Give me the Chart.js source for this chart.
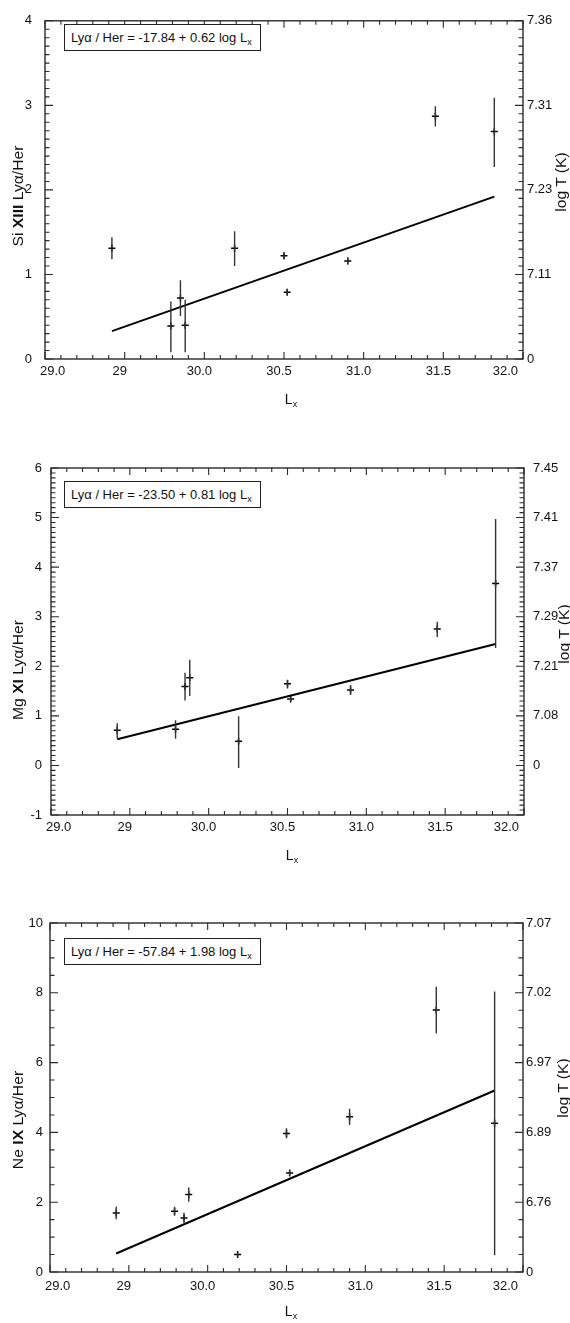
<!DOCTYPE html>
<html>
<head>
<meta charset="utf-8">
<script src="https://cdn.jsdelivr.net/npm/chart.js@4.4.1/dist/chart.umd.min.js"></script>
<style>
  body { margin: 0; background: #fff; }
  #page { position: relative; width: 570px; height: 1323px; overflow: hidden;
          font-family: 'Liberation Sans', Arial, sans-serif; color: #111; }
  canvas { position: absolute; left: 0; }
  .box { position: absolute; left: 64px; width: 197px; height: 27px; box-sizing: border-box;
         border: 1px solid #222; background: #fff; font-size: 13px; line-height: 25px;
         padding-left: 6px; white-space: nowrap; }
  .xt, .yt { position: absolute; white-space: nowrap; font-size: 14px; }
  .xt { transform: translate(-50%, -50%); }
  .yt { transform: translate(-50%, -50%) rotate(-90deg) scaleX(1.12); }
  sub { font-size: 9px; vertical-align: -3px; line-height: 0; }
</style>
</head>
<body>
<div id="page">
  <canvas id="si" width="570" height="420" style="top:0;width:570px;height:420px"></canvas>
  <canvas id="mg" width="570" height="440" style="top:440px;width:570px;height:440px"></canvas>
  <canvas id="ne" width="570" height="443" style="top:880px;width:570px;height:443px"></canvas>

  <div class="box" style="top:24px">Lyα / Her = -17.84 + 0.62 log L<sub>x</sub></div>
  <div class="xt" style="left:291px;top:399px">L<sub>x</sub></div>
  <div class="yt" style="left:18px;top:196px">Si <b>XIII</b> Lyα/Her</div>
  <div class="yt" style="left:561px;top:182px">log T (K)</div>

  <div class="box" style="top:481px">Lyα / Her = -23.50 + 0.81 log L<sub>x</sub></div>
  <div class="xt" style="left:292px;top:855px">L<sub>x</sub></div>
  <div class="yt" style="left:18px;top:670px">Mg <b>XI</b> Lyα/Her</div>
  <div class="yt" style="left:564px;top:634px">log T (K)</div>

  <div class="box" style="top:938px">Lyα / Her = -57.84 + 1.98 log L<sub>x</sub></div>
  <div class="xt" style="left:291px;top:1311px">L<sub>x</sub></div>
  <div class="yt" style="left:18px;top:1120px">Ne <b>IX</b> Lyα/Her</div>
  <div class="yt" style="left:563px;top:1088px">log T (K)</div>
</div>
<script>
// log Lx of the stars, the same in the three panels
const lx = [29.42, 29.79, 29.85, 29.88, 30.19, 30.50, 30.52, 30.90, 31.45, 31.82];
const xTickLabels = ['29.0', '29', '30.0', '30.5', '31.0', '31.5', '32.0'];
const fitX = [29.42, 31.82];

// Si XIII
const siRatio = [1.31, 0.39, 0.72, 0.40, 1.31, 1.22, 0.79, 1.16, 2.87, 2.69];
const siLow   = [1.18, 0.08, 0.51, 0.08, 1.10, 1.18, 0.76, 1.12, 2.75, 2.27];
const siHigh  = [1.44, 0.68, 0.93, 0.70, 1.51, 1.26, 0.82, 1.20, 2.99, 3.09];
const siFit   = [0.33, 1.92];
const siTempLabels = ['0', '7.11', '7.23', '7.31', '7.36'];

// Mg XI
const mgRatio = [0.71, 0.73, 1.59, 1.77, 0.49, 1.65, 1.34, 1.52, 2.75, 3.67];
const mgLow   = [0.55, 0.54, 1.31, 1.40, -0.05, 1.55, 1.30, 1.42, 2.59, 2.37];
const mgHigh  = [0.85, 0.91, 1.87, 2.13, 0.99, 1.73, 1.38, 1.62, 2.90, 4.97];
const mgFit   = [0.53, 2.45];
const mgTempLabels = ['', '0', '7.08', '7.21', '7.29', '7.37', '7.41', '7.45'];

// Ne IX
const neRatio = [1.69, 1.74, 1.55, 2.22, 0.50, 3.97, 2.84, 4.45, 7.51, 4.26];
const neLow   = [1.51, 1.61, 1.39, 2.01, 0.43, 3.83, 2.76, 4.21, 6.84, 0.48];
const neHigh  = [1.87, 1.87, 1.70, 2.42, 0.57, 4.12, 2.92, 4.68, 8.17, 8.04];
const neFit   = [0.53, 5.20];
const neTempLabels = ['0', '6.76', '6.89', '6.97', '7.02', '7.07'];

Chart.defaults.font.family = "'Liberation Sans', Arial, sans-serif";
Chart.defaults.font.size = 13;
Chart.defaults.color = '#111';

// frame with inward ticks on all four sides
const inTicks = {
  id: 'inTicks',
  afterDraw(chart, args, o) {
    const { ctx, chartArea: a, scales } = chart;
    ctx.save();
    ctx.strokeStyle = '#2a2a2a';
    ctx.lineWidth = 1.4;
    ctx.strokeRect(a.left, a.top, a.right - a.left, a.bottom - a.top);
    ctx.lineWidth = 1.1;
    function each(scale, minor, major, fn) {
      const n = Math.round((scale.max - scale.min) / minor);
      for (let k = 0; k <= n; k++) {
        const v = scale.min + k * minor;
        const isMajor = Math.abs(v / major - Math.round(v / major)) < 1e-6;
        fn(scale.getPixelForValue(v), isMajor);
      }
    }
    ctx.beginPath();
    each(scales.x, o.xMinor, o.xMajor, (p, m) => {
      const len = m ? 7 : 4;
      ctx.moveTo(p, a.bottom); ctx.lineTo(p, a.bottom - len);
      ctx.moveTo(p, a.top); ctx.lineTo(p, a.top + len);
    });
    each(scales.y, o.yMinor, o.yMajor, (p, m) => {
      const len = m ? 8 : 4.5;
      ctx.moveTo(a.left, p); ctx.lineTo(a.left + len, p);
    });
    each(scales.y2, o.yMinor, o.yMajor, (p, m) => {
      const len = m ? 8 : 4.5;
      ctx.moveTo(a.right, p); ctx.lineTo(a.right - len, p);
    });
    ctx.stroke();
    ctx.restore();
  }
};

function errorBars(low, high) {
  const pts = [];
  lx.forEach((x, i) => {
    pts.push({ x: x, y: low[i] }, { x: x, y: high[i] }, { x: x, y: null });
  });
  return pts;
}

function makePanel(id, ratio, low, high, fit, tempLabels, s) {
  return new Chart(document.getElementById(id), {
    type: 'scatter',
    data: {
      datasets: [
        { data: errorBars(low, high), showLine: true, spanGaps: false,
          borderColor: '#333', borderWidth: 1.4, pointRadius: 0 },
        { data: lx.map((x, i) => ({ x: x, y: ratio[i] })), pointStyle: 'cross',
          pointRadius: 3.5, borderColor: '#000', backgroundColor: '#000', borderWidth: 1.5 },
        { data: fitX.map((x, i) => ({ x: x, y: fit[i] })), showLine: true,
          borderColor: '#000', borderWidth: 2, pointRadius: 0 }
      ]
    },
    options: {
      responsive: false,
      animation: false,
      events: [],
      layout: { padding: { top: s.top, left: 0, right: 0, bottom: 0 } },
      plugins: {
        legend: { display: false },
        tooltip: { enabled: false },
        inTicks: { xMinor: 0.1, xMajor: 0.5, yMinor: s.yMinor, yMajor: s.yStep }
      },
      scales: {
        x: {
          type: 'linear', min: 29, max: 32,
          grid: { display: false, drawTicks: false }, border: { display: false },
          ticks: { stepSize: 0.5, padding: s.xPad, maxRotation: 0, align: 'inner', labelOffset: -5,
                   callback: (v, i) => xTickLabels[i] },
          afterFit: sc => { sc.height = s.h - s.bottom; }
        },
        y: {
          type: 'linear', position: 'left', min: s.yMin, max: s.yMax,
          grid: { display: false, drawTicks: false }, border: { display: false },
          ticks: { stepSize: s.yStep, padding: s.yPad },
          afterFit: sc => { sc.width = s.left; }
        },
        y2: {
          type: 'linear', position: 'right', min: s.yMin, max: s.yMax,
          grid: { display: false, drawTicks: false }, border: { display: false },
          ticks: { stepSize: s.yStep, padding: s.y2Pad,
                   callback: (v, i) => tempLabels[i] },
          afterFit: sc => { sc.width = 570 - s.right; }
        }
      }
    },
    plugins: [inTicks]
  });
}

makePanel('si', siRatio, siLow, siHigh, siFit, siTempLabels,
  { h: 420, top: 12, bottom: 359, left: 45, right: 523, yMin: 0, yMax: 4, yStep: 1, yMinor: 0.1,
    xPad: 5, yPad: 13, y2Pad: 4 });
makePanel('mg', mgRatio, mgLow, mgHigh, mgFit, mgTempLabels,
  { h: 440, top: 28, bottom: 375, left: 51, right: 524, yMin: -1, yMax: 6, yStep: 1, yMinor: 0.1,
    xPad: 5, yPad: 9, y2Pad: 9 });
makePanel('ne', neRatio, neLow, neHigh, neFit, neTempLabels,
  { h: 443, top: 43, bottom: 392, left: 50, right: 523, yMin: 0, yMax: 10, yStep: 2, yMinor: 0.5,
    xPad: 7, yPad: 7, y2Pad: 3 });
</script>
</body>
</html>
